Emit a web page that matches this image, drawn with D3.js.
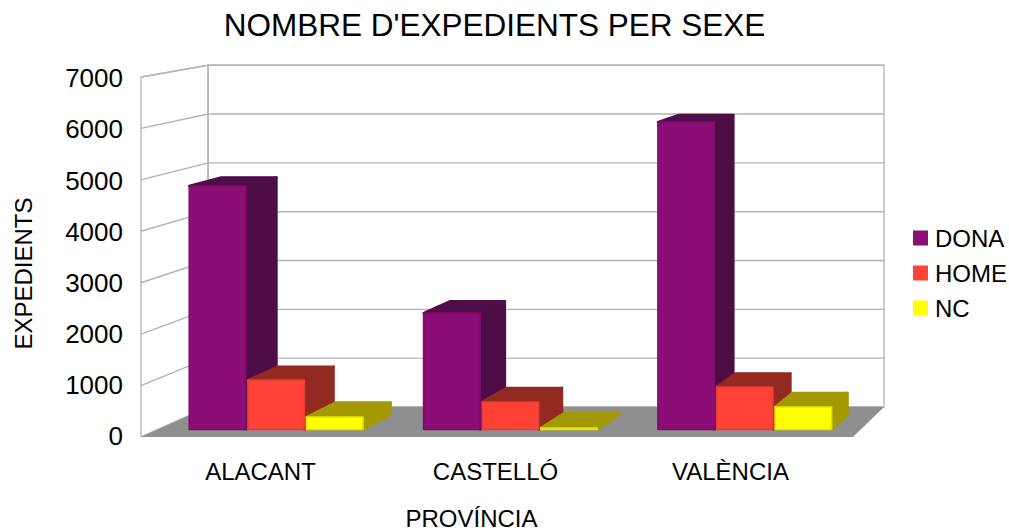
<!DOCTYPE html>
<html><head><meta charset="utf-8">
<script src="https://cdn.jsdelivr.net/npm/d3@7/dist/d3.min.js"></script>
<style>html,body{margin:0;padding:0;background:#fff}svg{display:block}text{font-family:"Liberation Sans",Arial,sans-serif;fill:#000}</style>
</head><body><svg id="c" width="1009" height="531"></svg>
<script>
const categories = ["ALACANT", "CASTELLÓ", "VALÈNCIA"];
const seriesNames = ["DONA", "HOME", "NC"];
const dona = [4795, 2294, 6055];
const home = [974, 544, 836];
const nc = [247, 30, 443];
const yTicks = [0, 1000, 2000, 3000, 4000, 5000, 6000, 7000];
const frontColors = ["#8b0f74", "#ff4336", "#ffff00"];
const sideColors = ["#4f0a45", "#932a24", "#a39900"];
const topColors = ["#50094a", "#932a24", "#a39900"];
const values = [dona, home, nc];

const svg = d3.select("#c");
const y = d3.scaleLinear().domain([0, 7000]).range([437, 77]);
const x0 = d3.scaleBand().domain(categories).range([141, 853]).paddingInner(0.25).paddingOuter(0.125);
const x1 = d3.scaleBand().domain(seriesNames).range([0, x0.bandwidth()]);
const xLabels = d3.scalePoint().domain(categories).range([260, 730]);
const yLabels = d3.scaleLinear().domain([0, 7000]).range([436.5, 78.5]);
const vp = [1466, -156];
const shrink = 0.0506;
function P(px, v, d) {
  const s = 1 - d * shrink;
  return [vp[0] + (px - vp[0]) * s, vp[1] + (y(v) - vp[1]) * s];
}
const line = d3.line();
const X0 = 141, X1 = 853;

// walls
const g = svg.append("g");
g.append("path").attr("d", line([P(X0,0,1),P(X1,0,1),P(X1,7000,1),P(X0,7000,1)])+"Z").attr("fill","#fff").attr("stroke","#b3b3b3").attr("stroke-width",1.3);
g.append("path").attr("d", line([P(X0,0,0),P(X0,7000,0),P(X0,7000,1),P(X0,0,1)])).attr("fill","none").attr("stroke","#b3b3b3").attr("stroke-width",1.3);
yTicks.forEach(t => {
  g.append("path").attr("d", line([P(X0,t,0),P(X0,t,1),P(X1,t,1)])).attr("fill","none").attr("stroke","#b3b3b3").attr("stroke-width",1.4);
});
// floor
g.append("path").attr("d", line([P(X0,0,0),P(X1,0,0),P(X1,0,1),P(X0,0,1)])+"Z").attr("fill","#8f8f8f");

// bars
const defs = svg.append("defs");
defs.append("filter").attr("id","soft").append("feGaussianBlur").attr("stdDeviation",0.6);
const dA = 0.25, dB = 0.74, shift = 1.5;
const barsG = svg.append("g").attr("filter","url(#soft)");
categories.forEach((cat, ci) => {
  seriesNames.forEach((name, si) => {
    const v = values[si][ci];
    const l = x0(cat) + x1(name) + shift + 0.7, r = l + x1.bandwidth() - 2;
    const face = (pts, fill, edge, w) => barsG.append("path").attr("d", line(pts)+"Z")
      .attr("fill", fill).attr("stroke", edge).attr("stroke-width", w).attr("stroke-linejoin","round");
    face([P(r,0,dA),P(r,v,dA),P(r,v,dB),P(r,0,dB)], sideColors[si], sideColors[si], 2.4);
    face([P(l,v,dA),P(r,v,dA),P(r,v,dB),P(l,v,dB)], topColors[si], topColors[si], 2.4);
    face([P(l,0,dA),P(r,0,dA),P(r,v,dA),P(l,v,dA)], frontColors[si], d3.color(frontColors[si]).darker(0.3), 1.5);
  });
});

// axes
const yAxis = svg.append("g").attr("transform","translate(129,0)")
  .call(d3.axisLeft(yLabels).tickValues(yTicks).tickSize(0).tickPadding(6).tickFormat(d3.format("d")));
yAxis.select(".domain").remove();
yAxis.selectAll("text").attr("font-size",26).style("font-family",'"Liberation Sans"');
const xAxis = svg.append("g").attr("transform","translate(0,463)")
  .call(d3.axisBottom(xLabels).tickSize(0).tickPadding(0));
xAxis.select(".domain").remove();
xAxis.selectAll("text").attr("font-size",24).style("font-family",'"Liberation Sans"');

// titles
svg.append("text").attr("x",494.5).attr("y",36).attr("text-anchor","middle").attr("font-size",31.5).text("NOMBRE D'EXPEDIENTS PER SEXE");
svg.append("text").attr("x",471.5).attr("y",527).attr("text-anchor","middle").attr("font-size",24).text("PROVÍNCIA");
svg.append("text").attr("transform","translate(32,273.5) rotate(-90)").attr("text-anchor","middle").attr("font-size",24).text("EXPEDIENTS");

// legend
const legendY = d3.scalePoint().domain(seriesNames).range([238, 308]);
seriesNames.forEach((name, i) => {
  svg.append("rect").attr("x",913).attr("y",legendY(name)-7.5).attr("width",15).attr("height",15).attr("fill",frontColors[i]);
  svg.append("text").attr("x",935).attr("y",legendY(name)+9).attr("font-size",24).text(name);
});
</script></body></html>
